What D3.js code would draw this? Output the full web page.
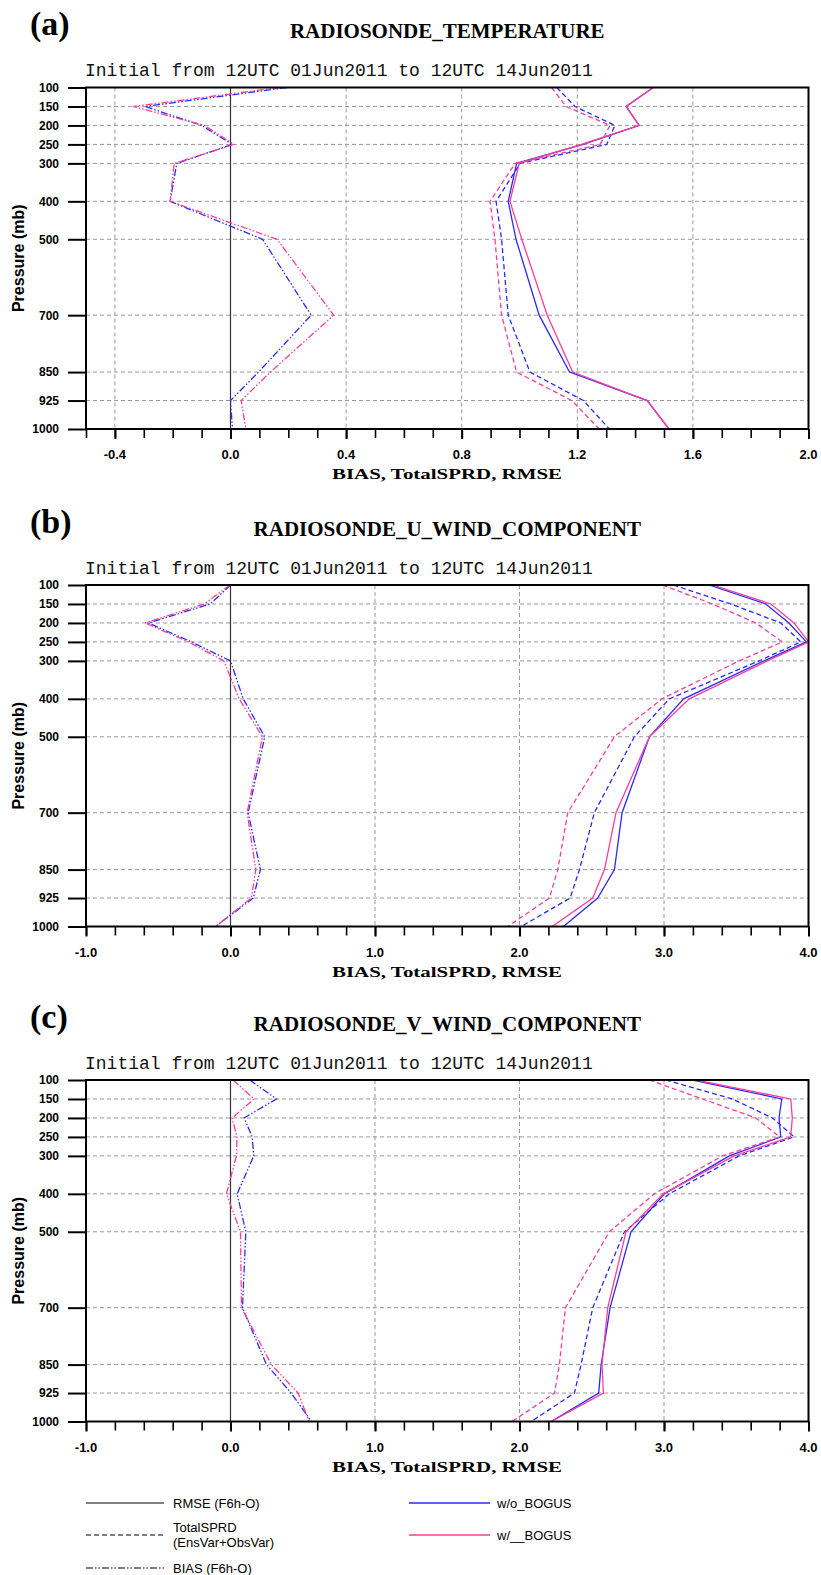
<!DOCTYPE html>
<html>
<head>
<meta charset="utf-8">
<script src="https://cdn.jsdelivr.net/npm/d3@7"></script>
<style>
  html, body { margin: 0; padding: 0; background: #fff; }
  svg { display: block; }
</style>
</head>
<body>
<svg id="chart" width="821" height="1575"></svg>
<script>
// ---------------- DATA ----------------
const levels = [100, 150, 200, 250, 300, 400, 500, 700, 850, 925, 1000];

const tempXTicks = [-0.4, 0.0, 0.4, 0.8, 1.2, 1.6, 2.0];
const windXTicks = [-1.0, 0.0, 1.0, 2.0, 3.0, 4.0];

// (a) Temperature
const tempRmseNo  = [1.463, 1.369, 1.414, 1.220, 0.990, 0.961, 0.988, 1.068, 1.173, 1.442, 1.517];
const tempRmseBog = [1.463, 1.369, 1.414, 1.215, 0.999, 0.967, 1.008, 1.096, 1.184, 1.442, 1.517];
const tempSprdNo  = [1.129, 1.192, 1.330, 1.302, 1.002, 0.919, 0.938, 0.961, 1.036, 1.221, 1.311];
const tempSprdBog = [1.111, 1.161, 1.313, 1.279, 0.985, 0.898, 0.915, 0.938, 0.990, 1.181, 1.276];
const tempBiasNo  = [0.195, -0.296, -0.100, 0.007, -0.186, -0.209, 0.111, 0.279, 0.097, 0.000, 0.007];
const tempBiasBog = [0.170, -0.336, -0.090, 0.012, -0.195, -0.209, 0.161, 0.357, 0.138, 0.037, 0.053];

// (b) U wind
const uRmseNo  = [3.312, 3.704, 3.865, 3.985, 3.692, 3.136, 2.899, 2.710, 2.657, 2.541, 2.304];
const uRmseBog = [3.336, 3.739, 3.900, 4.000, 3.715, 3.175, 2.899, 2.668, 2.588, 2.507, 2.226];
const uSprdNo  = [3.064, 3.462, 3.808, 3.946, 3.658, 3.037, 2.795, 2.518, 2.415, 2.350, 2.012];
const uSprdBog = [2.990, 3.335, 3.635, 3.819, 3.520, 2.986, 2.657, 2.334, 2.265, 2.207, 1.919];
const uBiasNo  = [0.000, -0.140, -0.569, -0.270, 0.000, 0.088, 0.237, 0.122, 0.207, 0.157, -0.104];
const uBiasBog = [-0.005, -0.180, -0.592, -0.290, -0.046, 0.060, 0.221, 0.115, 0.175, 0.145, -0.104];

// (c) V wind
const vRmseNo  = [3.197, 3.815, 3.796, 3.808, 3.452, 3.002, 2.772, 2.627, 2.565, 2.548, 2.219];
const vRmseBog = [3.220, 3.877, 3.888, 3.877, 3.486, 2.995, 2.737, 2.611, 2.571, 2.581, 2.219];
const vSprdNo  = [3.013, 3.474, 3.750, 3.900, 3.520, 3.037, 2.726, 2.507, 2.426, 2.380, 2.081];
const vSprdBog = [2.898, 3.266, 3.635, 3.800, 3.405, 2.933, 2.622, 2.318, 2.276, 2.242, 1.949];
const vBiasNo  = [0.133, 0.318, 0.094, 0.150, 0.161, 0.046, 0.106, 0.083, 0.249, 0.420, 0.560];
const vBiasBog = [0.018, 0.163, 0.011, 0.045, 0.041, -0.028, 0.069, 0.076, 0.283, 0.468, 0.544];

const panelLabels = ["(a)", "(b)", "(c)"];
const panelTitles = ["RADIOSONDE_TEMPERATURE", "RADIOSONDE_U_WIND_COMPONENT", "RADIOSONDE_V_WIND_COMPONENT"];
const subtitle = "Initial from 12UTC 01Jun2011 to 12UTC 14Jun2011";
const xTitle = "BIAS, TotalSPRD, RMSE";
const yTitle = "Pressure (mb)";

// ---------------- STYLE / LAYOUT ----------------
const BLUE = "#2a2aff";
const PINK = "#ff3d98";
const GRID = "#9a9a9a";
const L = 86, R = 808.5, H = 341.5;
const tops = [87.5, 585, 1080];

const styles = {
  rmse: null,
  sprd: "5,3",
  bias: "7,2,1.5,2,1.5,2"
};

const panels = [
  { domain: [-0.5, 2.0], major: tempXTicks, minorStep: 0.1,
    series: [
      {v: tempRmseNo, c: BLUE, s: "rmse"}, {v: tempSprdNo, c: BLUE, s: "sprd"}, {v: tempBiasNo, c: BLUE, s: "bias"},
      {v: tempRmseBog, c: PINK, s: "rmse"}, {v: tempSprdBog, c: PINK, s: "sprd"}, {v: tempBiasBog, c: PINK, s: "bias"}
    ] },
  { domain: [-1.0, 4.0], major: windXTicks, minorStep: 0.2,
    series: [
      {v: uRmseNo, c: BLUE, s: "rmse"}, {v: uSprdNo, c: BLUE, s: "sprd"}, {v: uBiasNo, c: BLUE, s: "bias"},
      {v: uRmseBog, c: PINK, s: "rmse"}, {v: uSprdBog, c: PINK, s: "sprd"}, {v: uBiasBog, c: PINK, s: "bias"}
    ] },
  { domain: [-1.0, 4.0], major: windXTicks, minorStep: 0.2,
    series: [
      {v: vRmseNo, c: BLUE, s: "rmse"}, {v: vSprdNo, c: BLUE, s: "sprd"}, {v: vBiasNo, c: BLUE, s: "bias"},
      {v: vRmseBog, c: PINK, s: "rmse"}, {v: vSprdBog, c: PINK, s: "sprd"}, {v: vBiasBog, c: PINK, s: "bias"}
    ] }
];

const svg = d3.select("#chart");
svg.append("rect").attr("width", 821).attr("height", 1575).attr("fill", "#fff");

const fmt = v => (Math.abs(v) < 1e-9 ? 0 : v).toFixed(1);

panels.forEach((p, i) => {
  const top = tops[i], bottom = top + H;
  const x = d3.scaleLinear().domain(p.domain).range([L, R]);
  const y = d3.scaleLinear().domain([100, 1000]).range([top, bottom]);
  const g = svg.append("g");

  // Panel label and titles
  g.append("text").attr("x", 30).attr("y", top - 52.5)
    .attr("font-family", "Liberation Serif, serif").attr("font-weight", "bold")
    .attr("font-size", 34).text(panelLabels[i]);
  g.append("text").attr("x", (L + R) / 2).attr("y", top - 49.5)
    .attr("text-anchor", "middle")
    .attr("font-family", "Liberation Serif, serif").attr("font-weight", "bold")
    .attr("font-size", 21).text(panelTitles[i]);
  g.append("text").attr("x", 85).attr("y", top - 11.5)
    .attr("font-family", "Liberation Mono, monospace")
    .attr("font-size", 18).attr("fill", "#111").text(subtitle);

  // Clip
  const clipId = "clip" + i;
  svg.append("clipPath").attr("id", clipId).append("rect")
    .attr("x", L).attr("y", top).attr("width", R - L).attr("height", H);

  // Horizontal grid
  g.append("g").selectAll("line").data(levels.filter(l => l !== 100 && l !== 1000)).join("line")
    .attr("x1", L).attr("x2", R).attr("y1", d => y(d)).attr("y2", d => y(d))
    .attr("stroke", GRID).attr("stroke-width", 1).attr("stroke-dasharray", "4,3");
  // Vertical grid
  g.append("g").selectAll("line").data(p.major.filter(t => Math.abs(t) > 1e-9 && x(t) < R - 1)).join("line")
    .attr("x1", d => x(d)).attr("x2", d => x(d)).attr("y1", top).attr("y2", bottom)
    .attr("stroke", GRID).attr("stroke-width", 1).attr("stroke-dasharray", "4,3");
  // Zero line
  g.append("line").attr("x1", x(0)).attr("x2", x(0)).attr("y1", top).attr("y2", bottom)
    .attr("stroke", "#333").attr("stroke-width", 1.2);

  // Series
  const line = d3.line().x(d => x(d[0])).y(d => y(d[1]));
  const sg = g.append("g").attr("clip-path", `url(#${clipId})`);
  p.series.forEach(s => {
    const pts = s.v.map((v, k) => [v, levels[k]]);
    sg.append("path").attr("d", line(pts)).attr("fill", "none")
      .attr("stroke", s.c).attr("stroke-width", 1.3)
      .attr("stroke-dasharray", styles[s.s]);
  });

  // Bottom axis: minor ticks
  const minors = d3.range(p.domain[0], p.domain[1] + 1e-9, p.minorStep);
  const bx = g.append("g").attr("transform", `translate(0,${bottom})`)
    .call(d3.axisBottom(x).tickValues(minors).tickSize(9).tickFormat(""));
  bx.select(".domain").remove();
  bx.selectAll(".tick line").attr("stroke", "#000").attr("stroke-width", 1.6);
  const bxM = g.append("g").attr("transform", `translate(0,${bottom})`)
    .call(d3.axisBottom(x).tickValues(p.major).tickSize(10).tickFormat(""));
  bxM.select(".domain").remove();
  bxM.selectAll(".tick line").attr("stroke", "#000").attr("stroke-width", 2);
  g.append("g").selectAll("text").data(p.major).join("text")
    .attr("x", d => x(d)).attr("y", bottom + 30)
    .attr("text-anchor", "middle")
    .attr("font-family", "Liberation Sans, Arial, sans-serif").attr("font-weight", "bold")
    .attr("font-size", 13).text(d => fmt(d));

  // Left axis
  const ly = g.append("g").attr("transform", `translate(${L},0)`)
    .call(d3.axisLeft(y).tickValues(levels).tickSize(18).tickPadding(9).tickFormat(d => String(d)));
  ly.select(".domain").remove();
  ly.selectAll(".tick line").attr("stroke", "#000").attr("stroke-width", 2);
  ly.selectAll(".tick text").attr("font-family", "Liberation Sans, Arial, sans-serif")
    .attr("font-weight", "bold").attr("font-size", 12).attr("fill", "#000");

  // Frame
  g.append("rect").attr("x", L).attr("y", top).attr("width", R - L).attr("height", H)
    .attr("fill", "none").attr("stroke", "#000").attr("stroke-width", 2);

  // Axis titles
  g.append("text").attr("transform", `translate(18,${(top + bottom) / 2}) rotate(-90)`)
    .attr("text-anchor", "middle").attr("dy", "0.35em")
    .attr("font-family", "Liberation Sans, Arial, sans-serif").attr("font-weight", "bold")
    .attr("font-size", 16).text(yTitle);
  g.append("text").attr("x", 447).attr("y", bottom + 50)
    .attr("text-anchor", "middle")
    .attr("font-family", "Liberation Serif, serif").attr("font-weight", "bold")
    .attr("font-size", 15).attr("textLength", 230).attr("lengthAdjust", "spacingAndGlyphs")
    .text(xTitle);
});

// ---------------- LEGEND ----------------
const legLeft = [
  { label: ["RMSE (F6h-O)"], dash: styles.rmse, y: 1503 },
  { label: ["TotalSPRD", "(EnsVar+ObsVar)"], dash: styles.sprd, y: 1535 },
  { label: ["BIAS (F6h-O)"], dash: styles.bias, y: 1568 }
];
const legRight = [
  { label: "w/o_BOGUS", color: BLUE, y: 1503 },
  { label: "w/__BOGUS", color: PINK, y: 1535 }
];
const lg = svg.append("g");
legLeft.forEach(d => {
  lg.append("line").attr("x1", 86).attr("x2", 164).attr("y1", d.y).attr("y2", d.y)
    .attr("stroke", "#555").attr("stroke-width", 1.5).attr("stroke-dasharray", d.dash);
  if (d.label.length === 1) {
    lg.append("text").attr("x", 173).attr("y", d.y).attr("dy", "0.35em")
      .attr("font-family", "Liberation Sans, Arial, sans-serif").attr("font-size", 13).text(d.label[0]);
  } else {
    lg.append("text").attr("x", 173).attr("y", d.y - 7.5).attr("dy", "0.35em")
      .attr("font-family", "Liberation Sans, Arial, sans-serif").attr("font-size", 13).text(d.label[0]);
    lg.append("text").attr("x", 173).attr("y", d.y + 7.5).attr("dy", "0.35em")
      .attr("font-family", "Liberation Sans, Arial, sans-serif").attr("font-size", 13).text(d.label[1]);
  }
});
legRight.forEach(d => {
  lg.append("line").attr("x1", 409).attr("x2", 490).attr("y1", d.y).attr("y2", d.y)
    .attr("stroke", d.color).attr("stroke-width", 1.5);
  lg.append("text").attr("x", 497).attr("y", d.y).attr("dy", "0.35em")
    .attr("font-family", "Liberation Sans, Arial, sans-serif").attr("font-size", 13).text(d.label);
});
</script>
</body>
</html>
